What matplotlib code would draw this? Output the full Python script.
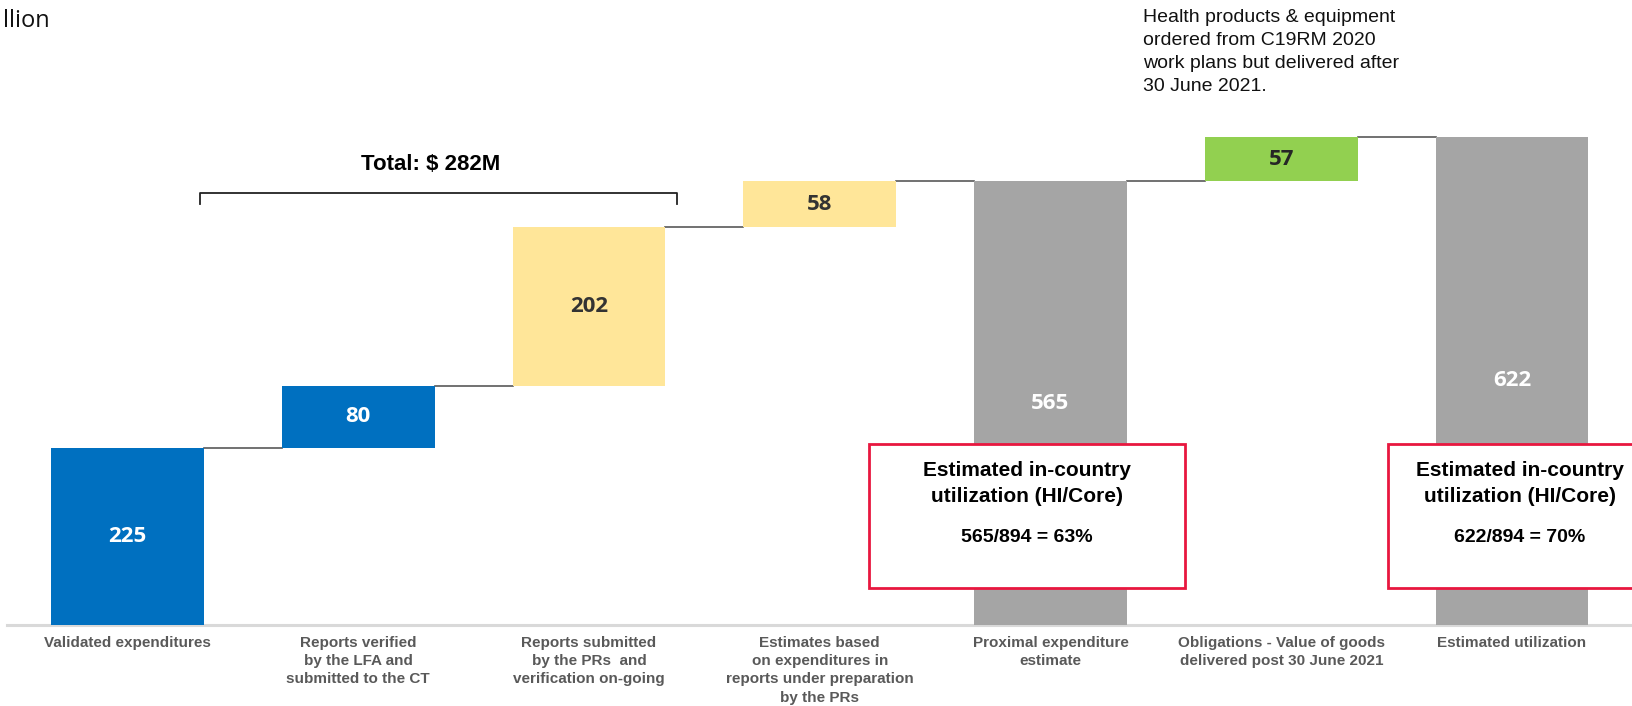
import matplotlib
matplotlib.use("Agg")
import matplotlib.pyplot as plt
from matplotlib.patches import Rectangle

# ---- data ----
categories = [
    "Validated expenditures",
    "Reports verified\nby the LFA and\nsubmitted to the CT",
    "Reports submitted\nby the PRs  and\nverification on-going",
    "Estimates based\non expenditures in\nreports under preparation\nby the PRs",
    "Proximal expenditure\nestimate",
    "Obligations - Value of goods\ndelivered post 30 June 2021",
    "Estimated utilization",
]
values = [225, 80, 202, 58, 565, 57, 622]
is_total = [False, False, False, False, True, False, True]
bar_colors = ["#0070C0", "#0070C0", "#FFE699", "#FFE699", "#A5A5A5", "#92D050", "#A5A5A5"]
label_colors = ["white", "white", "#333333", "#333333", "white", "#262626", "white"]

W, H = 1632, 706
fig = plt.figure(figsize=(W / 100, H / 100), dpi=100)

base_px = 625
scale = 0.785  # px per unit
ax = fig.add_axes([0, (H - base_px) / H, 1, base_px / H])
ax.set_ylim(0, base_px / scale)
spacing = 230.75
c0 = 127.5
ax.set_xlim(-c0 / spacing, (W - c0) / spacing)
for s in ax.spines.values():
    s.set_visible(False)
ax.set_yticks([])

# compute bottoms
bottoms = []
cum = 0
for v, t in zip(values, is_total):
    if t:
        bottoms.append(0)
        cum = v
    else:
        bottoms.append(cum)
        cum += v

xs = list(range(len(values)))
bw = 0.663
ax.bar(xs, values, bottom=bottoms, width=bw, color=bar_colors, zorder=2)

for x, v, b, lc in zip(xs, values, bottoms, label_colors):
    ax.text(x, b + v / 2, str(v), ha="center", va="center", color=lc,
            fontsize=16, fontweight="bold", family=["Open Sans", "DejaVu Sans"], zorder=3)

# connectors
for i in range(len(values) - 1):
    level = bottoms[i] + values[i]
    ax.plot([i + bw / 2, i + 1 - bw / 2], [level, level], color="#595959", lw=1.2, zorder=1)

# baseline
ax.axhline(0, xmin=0.004, xmax=1, color="#D9D9D9", lw=2.2, zorder=1, clip_on=False)

ax.set_xticks(xs)
ax.set_xticklabels(categories, fontsize=11, fontweight="bold", color="#595959",
                   family=["Liberation Sans", "DejaVu Sans"], linespacing=1.38)
ax.tick_params(axis="x", length=0, pad=8)

def yv(py):
    return (base_px - py) / scale

def xv(px):
    return (px - c0) / spacing

bx0, bx1 = xv(200), xv(677)
ax.plot([bx0, bx0, bx1, bx1], [yv(204), yv(193), yv(193), yv(204)], color="#222222", lw=1.3,
        clip_on=False)
ax.text(xv(431), yv(165), "Total: $ 282M", ha="center", va="center", fontsize=16,
        fontweight="bold", family=["Liberation Sans", "DejaVu Sans"])

def fx(px):
    return px / W

def fy(py):
    return 1 - py / H

fig.text(fx(3), fy(27), "llion", ha="left", va="baseline", fontsize=17,
         family=["Open Sans", "DejaVu Sans"], color="#111111")

fig.text(fx(1143), fy(52),
         "Health products & equipment\nordered from C19RM 2020\nwork plans but delivered after\n30 June 2021.",
         ha="left", va="center", fontsize=14, linespacing=1.45,
         family=["Liberation Sans", "DejaVu Sans"], color="#111111")

red = "#E8173F"
for (x0, x1, cx, txt) in [(869, 1185, 1027, "565/894 = 63%"), (1388, 1660, 1520, "622/894 = 70%")]:
    rect = Rectangle((fx(x0), fy(588)), fx(x1 - x0), (588 - 444) / H, transform=fig.transFigure,
                     facecolor="white", edgecolor=red, lw=2.0, zorder=5)
    fig.add_artist(rect)
    for py, t in [(470, "Estimated in-country"), (496, "utilization (HI/Core)"), (538, txt)]:
        fig.text(fx(cx), fy(py), t, ha="center", va="center", fontsize=15 if py < 520 else 14,
                 fontweight="bold", family=["Liberation Sans", "DejaVu Sans"], zorder=6)

fig.savefig("out.png", dpi=100)
